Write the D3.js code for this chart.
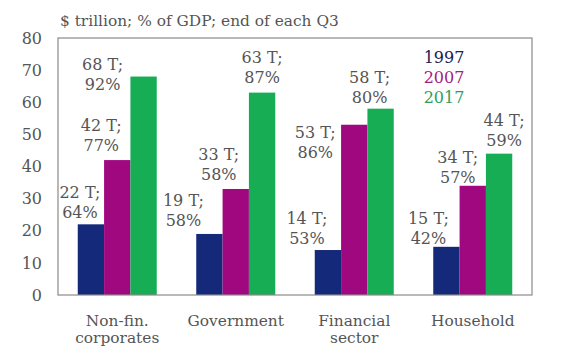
<!DOCTYPE html>
<html>
<head>
<meta charset="utf-8">
<script src="https://cdn.jsdelivr.net/npm/d3@7"></script>
<style>
  body { margin: 0; background: #fff; }
  text { font-family: "DejaVu Serif", Georgia, serif; fill: #555; }
</style>
</head>
<body>
<div id="debtChart"></div>
<script>
// debt by sector, $ trillion and % of GDP
var sectors = ["Non-fin.|corporates", "Government", "Financial|sector", "Household"];
var years = ["1997", "2007", "2017"];
var trillions = [
  [22, 19, 14, 15],   // 1997
  [42, 33, 53, 34],   // 2007
  [68, 63, 58, 44]    // 2017
];
var pctGdp = [
  [64, 58, 53, 42],
  [77, 58, 86, 57],
  [92, 87, 80, 59]
];
var yTicks = [0, 10, 20, 30, 40, 50, 60, 70, 80];
var colors = ["#15297a", "#a0087f", "#17ad55"];
var legendColors = ["#1b2150", "#a3207f", "#2e9e5e"];

// where each value label sits, relative to its bar centre / bar top (px)
var labelShift = [
  [[-11, -6], [-26, -8], [-21, -6], [-18, -3]],
  [[-16, -9], [-17, -9], [-39, 33], [-15, -3]],
  [[-41, 13], [0, -10], [-11, -6], [5, -8]]
];

var width = 586, height = 348;
var margin = { top: 38, right: 54, bottom: 53, left: 58 };
var w = width - margin.left - margin.right,
  h = height - margin.top - margin.bottom;

var svg = d3.select("#debtChart")
  .append("svg")
  .attr("width", width)
  .attr("height", height);

var g = svg.append("g")
  .attr("transform", "translate(" + margin.left + "," + margin.top + ")");

var x = d3.scaleBand().domain(sectors).range([0, w])
  .paddingInner(1 / 3).paddingOuter(1 / 6);
var xs = d3.scaleBand().domain(years).range([0, x.bandwidth()]);
var y = d3.scaleLinear().domain([0, 80]).range([h, 0]);

// title
svg.append("text")
  .attr("x", 60)
  .attr("y", 26)
  .style("font-size", "15.4px")
  .text("$ trillion; % of GDP; end of each Q3");

// y axis labels only
var yAxis = g.append("g")
  .call(d3.axisLeft(y).tickValues(yTicks).tickSize(0).tickPadding(16));
yAxis.select(".domain").remove();
yAxis.selectAll("text")
  .style("font-size", "16px")
  .attr("fill", "#555")
  .attr("font-family", null);

// bars
years.forEach(function (yr, s) {
  g.append("g")
    .selectAll("rect")
    .data(trillions[s])
    .enter()
    .append("rect")
    .attr("x", function (d, i) { return x(sectors[i]) + xs(yr); })
    .attr("y", function (d) { return y(d); })
    .attr("width", xs.bandwidth())
    .attr("height", function (d) { return h - y(d); })
    .style("fill", colors[s]);
});

// value labels
years.forEach(function (yr, s) {
  trillions[s].forEach(function (d, i) {
    var cx = x(sectors[i]) + xs(yr) + xs.bandwidth() / 2 + labelShift[s][i][0];
    var by = y(d) + labelShift[s][i][1];
    var t = g.append("text")
      .attr("text-anchor", "middle")
      .style("font-size", "16px");
    t.append("tspan").attr("x", cx).attr("y", by - 20).text(d + " T;");
    t.append("tspan").attr("x", cx).attr("y", by).text(pctGdp[s][i] + "%");
  });
});

// frame
g.append("rect")
  .attr("width", w)
  .attr("height", h)
  .style("fill", "none")
  .style("stroke", "#8a8a8a")
  .style("stroke-width", 1.2);

// x category labels
sectors.forEach(function (name) {
  var t = g.append("text")
    .attr("text-anchor", "middle")
    .style("font-size", "15.4px");
  name.split("|").forEach(function (line, k) {
    t.append("tspan")
      .attr("x", x(name) + x.bandwidth() / 2)
      .attr("y", h + 31 + k * 17)
      .text(line);
  });
});

// legend
years.forEach(function (yr, s) {
  svg.append("text")
    .attr("x", 444)
    .attr("y", 63 + s * 20)
    .attr("text-anchor", "middle")
    .style("font-size", "16px")
    .style("fill", legendColors[s])
    .text(yr);
});
</script>
</body>
</html>
